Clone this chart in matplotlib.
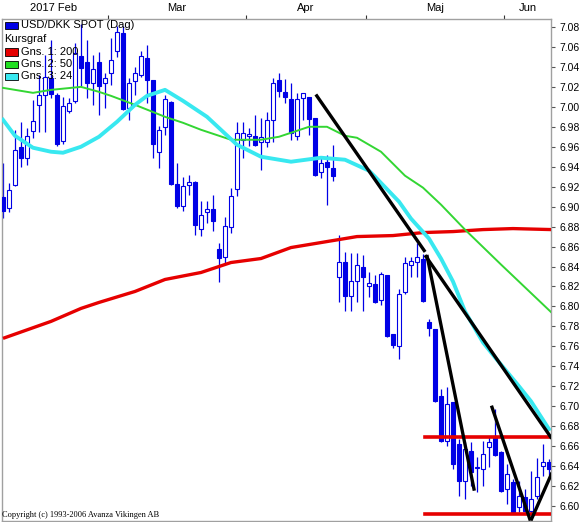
import numpy as np
import pandas as pd
import matplotlib
matplotlib.use('Agg')
import matplotlib.pyplot as plt
from matplotlib.patches import Rectangle

# USD/DKK spot, daily candles 3 Feb - 12 Jun 2017
dates = pd.bdate_range('2017-02-03', periods=92)

opens = [6.910, 6.899, 6.922, 6.960, 6.949, 6.976, 7.002, 7.012, 7.029, 7.012,
         6.966, 6.996, 7.006, 7.051, 7.045, 7.024, 7.045, 7.024, 7.034, 7.056,
         7.074, 6.999, 7.026, 7.032, 7.049, 7.027, 6.955, 6.980, 7.005, 6.923,
         6.901, 6.922, 6.925, 6.878, 6.895, 6.898, 6.858, 6.850, 6.880, 6.918,
         6.967, 6.971, 6.971, 6.965, 6.965, 6.987, 7.027, 7.015, 7.008, 6.971,
         7.009, 7.010, 6.989, 6.935, 6.945, 6.939, 6.829, 6.845, 6.810, 6.825,
         6.840, 6.820, 6.822, 6.806, 6.831, 6.772, 6.760, 6.814, 6.842, 6.845,
         6.848, 6.784, 6.777, 6.710, 6.665, 6.704, 6.662, 6.625, 6.655, 6.638,
         6.637, 6.659, 6.670, 6.654, 6.617, 6.624, 6.599, 6.609, 6.595, 6.610,
         6.640, 6.644]
highs = [6.944, 6.924, 6.977, 6.985, 6.979, 7.007, 7.032, 7.052, 7.067, 7.014,
         7.010, 7.009, 7.064, 7.083, 7.067, 7.052, 7.055, 7.034, 7.069, 7.081,
         7.081, 7.029, 7.040, 7.056, 7.062, 7.027, 6.981, 7.012, 7.006, 6.944,
         6.930, 6.932, 6.926, 6.906, 6.906, 6.912, 6.864, 6.890, 6.919, 6.985,
         6.985, 6.979, 6.992, 6.989, 6.995, 7.029, 7.034, 7.028, 7.024, 7.014,
         7.014, 7.010, 6.989, 6.949, 6.952, 6.962, 6.872, 6.855, 6.854, 6.854,
         6.852, 6.834, 6.831, 6.834, 6.831, 6.772, 6.817, 6.850, 6.850, 6.864,
         6.853, 6.787, 6.777, 6.717, 6.719, 6.704, 6.667, 6.664, 6.664, 6.649,
         6.665, 6.669, 6.697, 6.655, 6.642, 6.627, 6.625, 6.617, 6.635, 6.648,
         6.662, 6.647]
lows = [6.889, 6.895, 6.921, 6.940, 6.942, 6.969, 6.975, 6.975, 7.009, 6.961,
        6.963, 6.994, 7.004, 7.021, 7.009, 7.002, 6.992, 6.999, 7.022, 7.050,
        6.997, 6.987, 7.012, 7.030, 7.004, 6.949, 6.939, 6.972, 6.922, 6.899,
        6.896, 6.912, 6.872, 6.871, 6.884, 6.876, 6.824, 6.844, 6.874, 6.911,
        6.949, 6.961, 6.961, 6.937, 6.960, 6.965, 7.010, 7.004, 6.967, 6.967,
        6.987, 6.972, 6.931, 6.929, 6.902, 6.926, 6.804, 6.795, 6.795, 6.804,
        6.795, 6.809, 6.803, 6.801, 6.769, 6.758, 6.747, 6.812, 6.829, 6.829,
        6.804, 6.770, 6.704, 6.664, 6.660, 6.637, 6.610, 6.607, 6.620, 6.614,
        6.620, 6.639, 6.650, 6.614, 6.602, 6.592, 6.594, 6.594, 6.592, 6.607,
        6.630, 6.631]
closes = [6.896, 6.917, 6.957, 6.949, 6.971, 6.986, 7.012, 7.030, 7.013, 6.963,
          7.001, 7.004, 7.054, 7.039, 7.024, 7.038, 7.021, 7.029, 7.047, 7.075,
          6.998, 7.024, 7.034, 7.051, 7.027, 6.963, 6.977, 7.008, 6.923, 6.901,
          6.921, 6.925, 6.882, 6.892, 6.898, 6.886, 6.849, 6.881, 6.911, 6.974,
          6.974, 6.972, 6.962, 6.970, 6.987, 7.024, 7.016, 7.010, 6.974, 7.008,
          7.014, 6.988, 6.932, 6.944, 6.940, 6.931, 6.845, 6.810, 6.825, 6.842,
          6.829, 6.823, 6.804, 6.832, 6.770, 6.761, 6.812, 6.844, 6.846, 6.850,
          6.805, 6.778, 6.705, 6.665, 6.702, 6.642, 6.625, 6.657, 6.634, 6.639,
          6.652, 6.664, 6.651, 6.615, 6.632, 6.594, 6.610, 6.595, 6.607, 6.629,
          6.644, 6.637]

# moving averages (sampled from the chart at candle index)
ma200_idx = [0, 8, 13, 16, 22, 27, 33, 38, 43, 48, 54, 59, 65, 70, 75, 80, 85, 91.4]
ma200 = [6.768, 6.785, 6.798, 6.804, 6.815, 6.827, 6.834, 6.844, 6.848, 6.859,
         6.865, 6.870, 6.871, 6.874, 6.875, 6.877, 6.878, 6.877]
ma50_idx = [0, 5, 8, 13, 16, 18, 22, 27, 30, 33, 38, 43, 46, 51, 54, 57, 59, 63,
            67, 70, 73, 77, 83, 91.4]
ma50 = [7.019, 7.014, 7.017, 7.020, 7.015, 7.011, 7.002, 6.990, 6.984, 6.977,
        6.967, 6.967, 6.970, 6.980, 6.980, 6.971, 6.969, 6.955, 6.931, 6.919,
        6.902, 6.877, 6.842, 6.794]
ma24_idx = [0, 2, 5, 8, 10, 13, 16, 19, 22, 24, 27, 30, 34, 39, 43, 48, 53, 57,
            61, 62, 66, 68, 71, 73, 75, 77, 80, 82, 86, 88, 91]
ma24 = [6.987, 6.971, 6.959, 6.955, 6.954, 6.960, 6.970, 6.985, 7.002, 7.011,
        7.017, 7.006, 6.990, 6.962, 6.950, 6.945, 6.949, 6.947, 6.936, 6.930,
        6.905, 6.888, 6.868, 6.848, 6.825, 6.795, 6.764, 6.749, 6.720, 6.705,
        6.677]

# drawn trend lines (start idx, start price, end idx, end price)
trend_black = [(52.3, 7.011, 70.2, 6.856),
               (70.5, 6.850, 91.3, 6.669),
               (70.7, 6.850, 78.5, 6.617),
               (81.5, 6.699, 87.8, 6.587),
               (88.1, 6.587, 91.4, 6.632)]
trend_yellow = [(77.2, 6.655, 78.0, 6.632),
                (81.8, 6.695, 82.3, 6.682),
                (85.0, 6.637, 87.3, 6.597)]
levels = [6.669, 6.592]
levels_from = 70.3

months = ['2017 Feb', 'Mar', 'Apr', 'Maj', 'Jun']
legend_labels = ['USD/DKK SPOT (Dag)', 'Gns. 1: 200', 'Gns. 2: 50', 'Gns. 3: 24']

BLUE = '#0000e6'
RED = '#e60000'
GREEN = '#33d633'
CYAN = '#38e8f0'
GREY = '#a0a0a0'

o = np.array(opens)
h = np.array(highs)
l = np.array(lows)
c = np.array(closes)
idx = np.arange(len(dates))
up = c >= o

fig = plt.figure(figsize=(5.87, 5.22), dpi=100)
ax = fig.add_axes([1.5 / 587, 1 / 522, 550 / 587, 502 / 522])

# candles
ax.vlines(idx, l, h, color=BLUE, lw=0.9, zorder=2)
body = np.maximum(np.abs(c - o), 0.0015)
ax.bar(idx[up], body[up], bottom=np.minimum(o, c)[up], width=0.62,
       facecolor='white', edgecolor=BLUE, lw=0.8, zorder=3)
ax.bar(idx[~up], body[~up], bottom=np.minimum(o, c)[~up], width=0.62,
       facecolor=BLUE, edgecolor=BLUE, lw=0.8, zorder=3)

# moving averages
ax.plot(ma200_idx, ma200, color=RED, lw=2.4, zorder=4, solid_capstyle='butt')
ax.plot(ma50_idx, ma50, color=GREEN, lw=1.4, zorder=4)
ax.plot(ma24_idx, ma24, color=CYAN, lw=2.8, zorder=4)

# trend lines
for x0, y0, x1, y1 in trend_black:
    ax.plot([x0, x1], [y0, y1], color='black', lw=2.4, zorder=6)
for x0, y0, x1, y1 in trend_yellow:
    ax.plot([x0, x1], [y0, y1], color='#f0f040', lw=1.2, zorder=5)
for lev in levels:
    ax.plot([levels_from, idx[-1] + 0.5], [lev, lev], color=RED, lw=2.6, zorder=5)

ax.set_xlim(-0.25, 91.42)
ax.set_ylim(6.585, 7.088)

# y axis on the right
ax.yaxis.tick_right()
ax.set_yticks(np.round(np.arange(6.60, 7.081, 0.02), 2))
ax.set_yticklabels(['%.2f' % v for v in np.arange(6.60, 7.081, 0.02)],
                   family=['Liberation Sans Narrow', 'Liberation Sans'], fontsize=7.5)
ax.tick_params(axis='y', direction='out', length=3, width=0.8, color='#555555', pad=3)

# months along the top
month_of = dates.month
bounds = [i - 0.5 for i in range(1, len(dates)) if month_of[i] != month_of[i - 1]]
centres = [idx[month_of == m].mean() for m in pd.unique(month_of)]
ax.xaxis.tick_top()
ax.set_xticks(bounds)
ax.set_xticklabels([])
ax.set_xticks(centres, minor=True)
ax.set_xticklabels(months, minor=True, family='Liberation Sans', fontsize=8)
ax.tick_params(axis='x', which='major', direction='out', length=3, width=0.8,
               color='#333333')
ax.tick_params(axis='x', which='minor', length=0, pad=4)

for s in ax.spines.values():
    s.set_color(GREY)
    s.set_linewidth(1.0)

# legend, drawn by hand in axes fraction
def fx(px):
    return (px - 1.5) / 550

def fy(py):
    return (521 - py) / 502

rows = [25, 52, 64, 76]
cols = [BLUE, RED, '#22e022', CYAN]
for r, col, lab in zip(rows, cols, legend_labels):
    ax.add_patch(Rectangle((fx(5), fy(r + 3.5)), fx(18) - fx(5), fy(r - 3.5) - fy(r + 3.5),
                           transform=ax.transAxes, facecolor=col, edgecolor='black',
                           lw=0.6, zorder=8))
    ax.text(fx(21), fy(r), lab, transform=ax.transAxes, va='center', ha='left',
            fontsize=8, family='Liberation Sans', zorder=8)
ax.text(fx(4), fy(39), 'Kursgraf', transform=ax.transAxes, va='center', ha='left',
        fontsize=8, family='Liberation Sans', zorder=8)

ax.text(fx(2), fy(515), 'Copyright (c) 1993-2006 Avanza Vikingen AB',
        transform=ax.transAxes, va='center', ha='left', fontsize=6,
        family='Liberation Serif', zorder=8)

fig.savefig('out.png', dpi=100)
